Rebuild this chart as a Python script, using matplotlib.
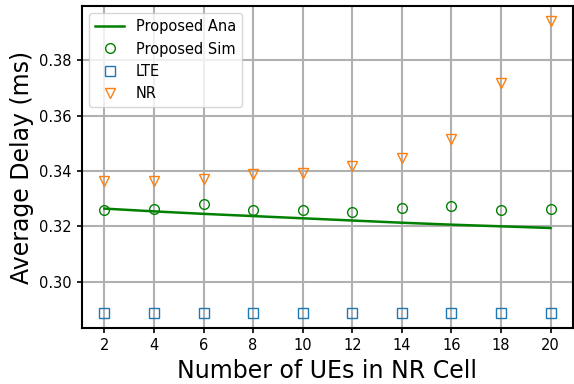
import matplotlib
matplotlib.use("Agg")
import matplotlib.pyplot as plt

num_ues = [2, 4, 6, 8, 10, 12, 14, 16, 18, 20]
proposed_ana = [0.3264, 0.3254, 0.3245, 0.3237, 0.3229, 0.3221, 0.3213, 0.3206, 0.3200, 0.3194]
proposed_sim = [0.3259, 0.3261, 0.3280, 0.3260, 0.3258, 0.3251, 0.3267, 0.3272, 0.3260, 0.3264]
lte = [0.2886, 0.2886, 0.2886, 0.2886, 0.2886, 0.2886, 0.2886, 0.2886, 0.2886, 0.2886]
nr = [0.3365, 0.3365, 0.3371, 0.3388, 0.3392, 0.3419, 0.3447, 0.3516, 0.3717, 0.3942]

fig, ax = plt.subplots(figsize=(5.74, 3.84), dpi=100)
fig.subplots_adjust(left=0.143, right=0.998, bottom=0.146, top=0.984)

ax.plot(num_ues, proposed_ana, color="green", linewidth=1.8, label="Proposed Ana")
ax.plot(num_ues, proposed_sim, linestyle="none", marker="o", markersize=7,
        markerfacecolor="none", markeredgecolor="green", label="Proposed Sim")
ax.plot(num_ues, lte, linestyle="none", marker="s", markersize=7,
        markerfacecolor="none", markeredgecolor="tab:blue", label="LTE")
ax.plot(num_ues, nr, linestyle="none", marker="v", markersize=7,
        markerfacecolor="none", markeredgecolor="tab:orange", label="NR")

ax.set_xticks(num_ues)
ax.set_yticks([0.30, 0.32, 0.34, 0.36, 0.38])
ax.grid(True, color="#b0b0b0", linewidth=1.5)
ax.set_axisbelow(True)
for s in ax.spines.values():
    s.set_linewidth(1.5)
ax.tick_params(labelsize=10.5, width=1.2, length=3.8)
ax.set_xlabel("Number of UEs in NR Cell", fontsize=17)
ax.set_ylabel("Average Delay (ms)", fontsize=17)
ax.legend(loc="upper left", fontsize=10.5)

fig.savefig("out.png", dpi=100)
